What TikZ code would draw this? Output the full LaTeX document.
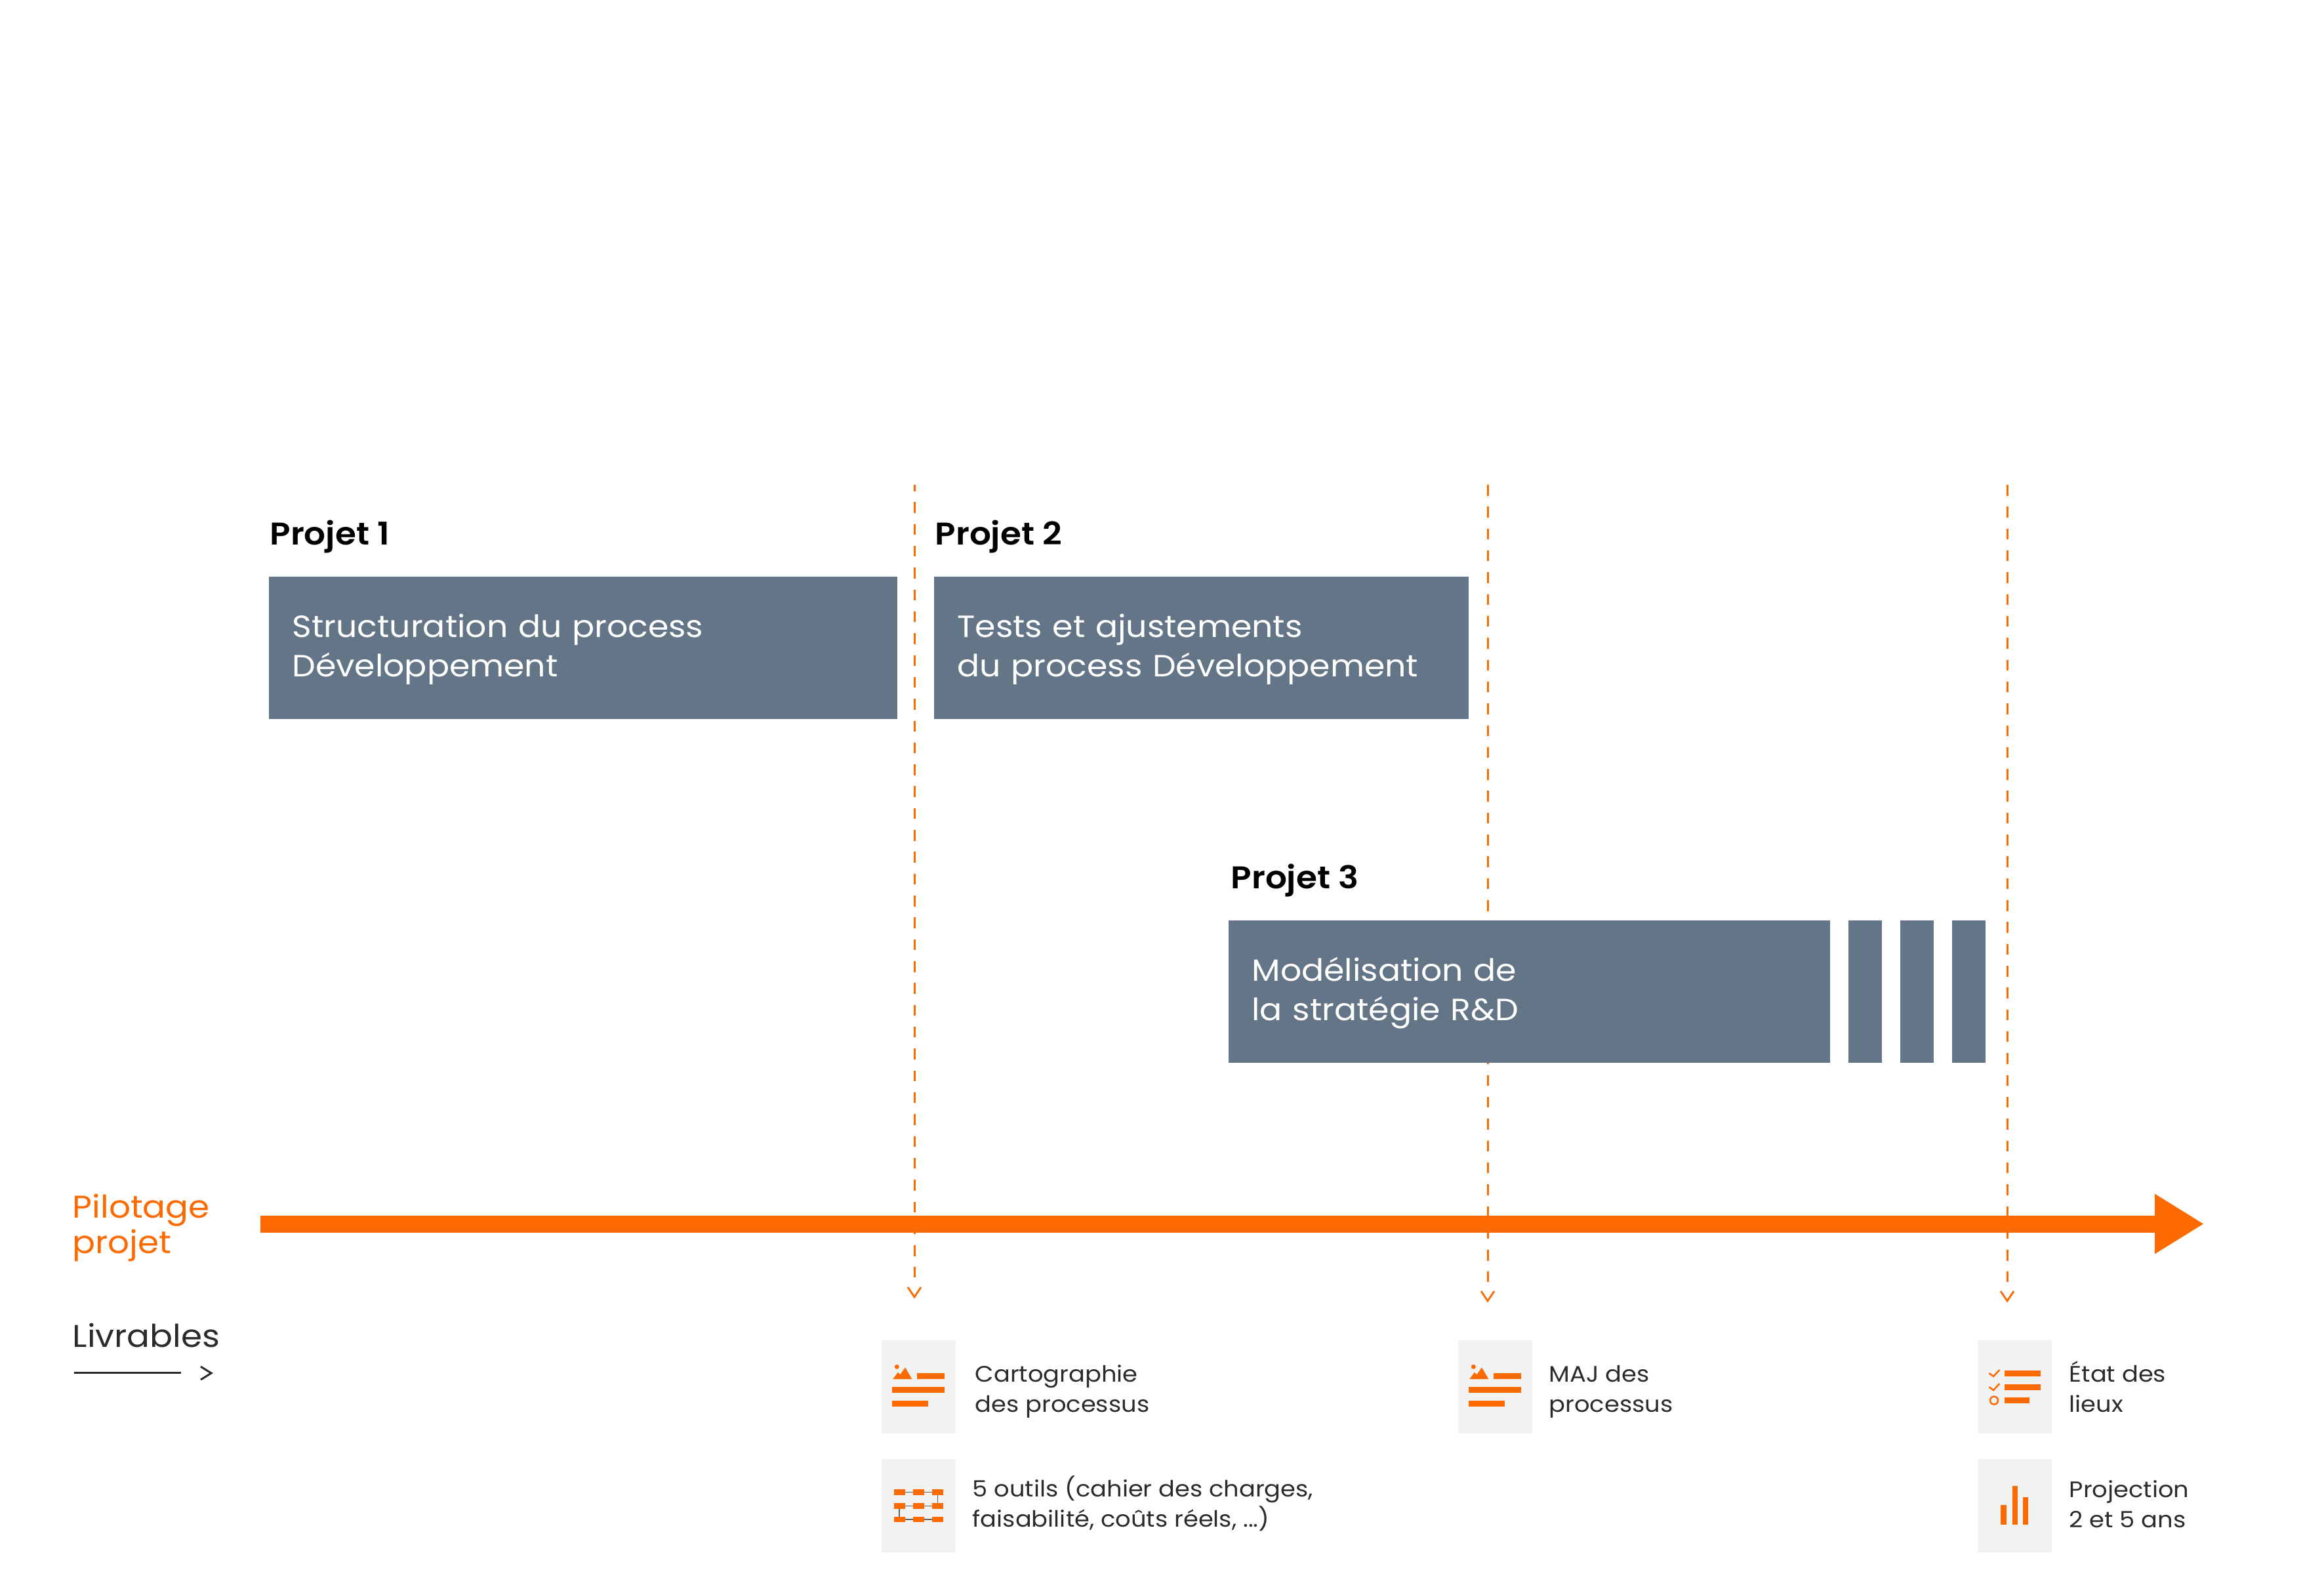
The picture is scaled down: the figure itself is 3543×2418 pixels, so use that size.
\documentclass[tikz,border=0pt]{standalone}
\usepackage{fontspec}
\setmainfont{Poppins}[FakeStretch=1.08]
\newfontfamily\kmedium{Poppins SemiBold}[FakeStretch=1.08]
\usetikzlibrary{arrows.meta}
\definecolor{korange}{HTML}{FD6A02}
\definecolor{kslate}{HTML}{647587}
\definecolor{kink}{HTML}{2B2B2B}
\definecolor{kpale}{HTML}{F2F2F2}
\tikzset{
  bar/.style={fill=kslate,text=white,anchor=north west,inner sep=0pt,outer sep=0pt,minimum height=2.17cm},
  barlabel/.style={bar,align=left,inner xsep=0.355cm,font=\fontsize{13.3}{17.07}\selectfont},
  title/.style={anchor=base west,inner sep=0pt,font=\kmedium\fontsize{13.6}{15}\selectfont,text=black},
  side/.style={anchor=base west,inner sep=0pt,align=left,font=\fontsize{13.6}{15.08}\selectfont},
  note/.style={anchor=base west,inner sep=0pt,align=left,text=kink,font=\fontsize{9.7}{13.09}\selectfont},
  tile/.style={fill=kpale,anchor=north west,inner sep=0pt,outer sep=0pt,minimum width=1.13cm,minimum height=1.42cm},
  milestone/.style={korange,line width=0.03cm,dash pattern=on 0.165cm off 0.168cm},
  chevron/.pic={
    \draw[korange,line width=0.028cm](-10,-15)--(0,0)--(10,-15);
  },
  docicon/.pic={
    \fill[korange](16.3,71)rectangle(96,80);
    \fill[korange](16.3,92)rectangle(71,100.7);
    \fill[korange](54,50.3)rectangle(96,59);
    \fill[korange](17.3,59)--(25,48.7)--(28.3,52.3)--(36,41.3)--(46.3,59)--cycle;
    \fill[korange](23.3,40.3)circle(3.5);
  },
  toolicon/.pic={
    \draw[kink!75,line width=0.015cm](27,50.3)--(85.3,50.3)--(85.3,71.3)--(27,71.3)--(27,92)--(85.3,92);
    \fill[korange](18.5,46)rectangle++(17,8.7);\fill[korange](47.8,46)rectangle++(17,8.7);\fill[korange](76.8,46)rectangle++(17,8.7);
    \fill[korange](18.5,67)rectangle++(17,8.7);\fill[korange](47.8,67)rectangle++(17,8.7);\fill[korange](76.8,67)rectangle++(17,8.7);
    \fill[korange](18.5,87.7)rectangle++(17,8.7);\fill[korange](47.8,87.7)rectangle++(17,8.7);\fill[korange](76.8,87.7)rectangle++(17,8.7);
  },
  checkicon/.pic={
    \fill[korange](41.3,45.8)rectangle(96.3,55);
    \fill[korange](41.3,66.7)rectangle(96.3,75.5);
    \fill[korange](41.3,87)rectangle(79.3,96);
    \draw[korange,line width=0.025cm](17.4,50)--++(6.6,5)--++(9.4,-10);
    \draw[korange,line width=0.025cm](17.4,71)--++(6.6,5)--++(9.4,-10);
    \draw[korange,line width=0.025cm](25,91.6)circle(6);
  },
  charticon/.pic={
    \fill[korange](35,70)rectangle(44,100);
    \fill[korange](52.5,41.4)rectangle(60.7,100);
    \fill[korange](68.6,58)rectangle(77.4,100);
  }
}
\begin{document}
\begin{tikzpicture}[x=0.01cm,y=-0.01cm]
\useasboundingbox(0,0)rectangle(3543,2418);
% pilotage arrow
\coordinate(pilotA)at(397,1865.5);
\coordinate(pilotB)at(3360,1865.5);
\draw[korange,line width=0.26cm,-{Triangle[length=0.75cm,width=0.86cm]}](pilotA)--(pilotB);
% milestones
\coordinate(mileAa)at(1394,739);
\coordinate(mileAb)at(1394,1947);
\coordinate(mileAc)at(1394,1977);
\coordinate(mileBa)at(2268,739);
\coordinate(mileBb)at(2268,1954);
\coordinate(mileBc)at(2268,1983);
\coordinate(mileCa)at(3060,739);
\coordinate(mileCb)at(3060,1954);
\coordinate(mileCc)at(3060,1983);
\draw[milestone,dash phase=0.07cm](mileAa)--(mileAb);
\draw[milestone](mileBa)--(mileBb);
\draw[milestone](mileCa)--(mileCb);
\pic at(mileAc){chevron};
\pic at(mileBc){chevron};
\pic at(mileCc){chevron};
% projects
\node[title](projA)at(411,830){Projet 1};
\node[title](projB)at(1425,830){Projet 2};
\node[title](projC)at(1876,1354){Projet 3};
\node[barlabel,minimum width=9.57cm,text width=8.86cm](barA)at(410,879){\rule{0pt}{0.4cm}Structuration du process\\Développement};
\node[barlabel,minimum width=8.14cm,text width=7.43cm](barB)at(1424,879){\rule{0pt}{0.4cm}Tests et ajustements\\du process Développement};
\node[barlabel,minimum width=9.16cm,text width=8.45cm](barC)at(1873,1403){\rule{0pt}{0.4cm}Modélisation de\\la stratégie R\&D};
\node[bar,minimum width=0.51cm](sliceA)at(2818,1403){};
\node[bar,minimum width=0.51cm](sliceB)at(2897,1403){};
\node[bar,minimum width=0.51cm](sliceC)at(2976,1403){};
% left labels
\node[side,text=korange](pilot)at(110,1910){Pilotage\\projet};
\node[side,text=kink](livr)at(110,2053){Livrables};
\coordinate(livrA)at(113,2092);
\coordinate(livrB)at(276,2092);
\coordinate(livrC)at(306,2083);
\coordinate(livrD)at(322,2093);
\coordinate(livrE)at(306,2103);
\draw[kink,line width=0.03cm](livrA)--(livrB);
\draw[kink,line width=0.03cm](livrC)--(livrD)--(livrE);
% deliverables
\node[tile](tileA)at(1344,2043){};
\node[tile](tileB)at(1344,2224){};
\node[tile](tileC)at(2223,2043){};
\node[tile](tileD)at(3015,2043){};
\node[tile](tileE)at(3015,2224){};
\pic at(tileA.north west){docicon};
\pic at(tileB.north west){toolicon};
\pic at(tileC.north west){docicon};
\pic at(tileD.north west){checkicon};
\pic at(tileE.north west){charticon};
\node[note](noteA)at(1486,2152){Cartographie\\des processus};
\node[note](noteB)at(1482,2327){5 outils (cahier des charges,\\faisabilité, coûts réels, ...)};
\node[note](noteC)at(2361,2152){MAJ des\\processus};
\node[note](noteD)at(3154,2152){État des\\lieux};
\node[note](noteE)at(3154,2328){Projection\\2 et 5 ans};
\end{tikzpicture}
\end{document}
